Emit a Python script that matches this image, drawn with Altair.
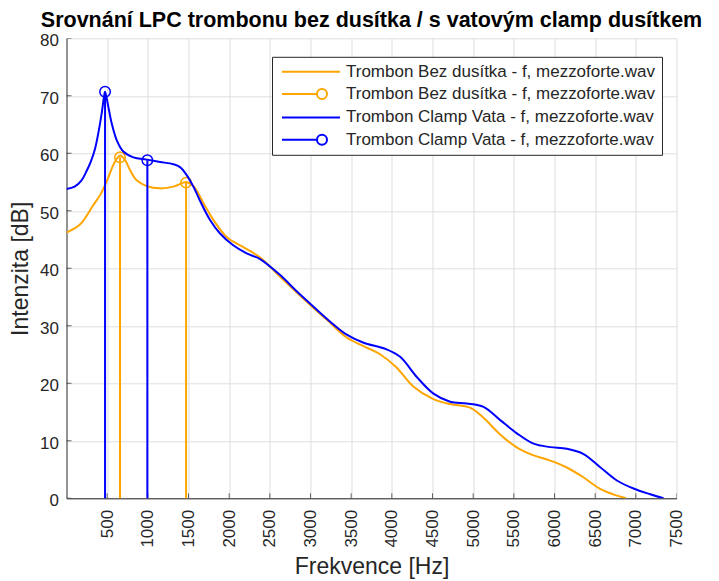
import altair as alt
import pandas as pd

TITLE = "Srovnání LPC trombonu bez dusítka / s vatovým clamp dusítkem"
X_TITLE = "Frekvence [Hz]"
Y_TITLE = "Intenzita [dB]"

LEGEND_KEYS = ["bez_line", "bez_stem", "clamp_line", "clamp_stem"]
LEGEND_LABELS = [
    "Trombon Bez dusítka - f, mezzoforte.wav",
    "Trombon Bez dusítka - f, mezzoforte.wav",
    "Trombon Clamp Vata - f, mezzoforte.wav",
    "Trombon Clamp Vata - f, mezzoforte.wav",
]

bez_freq = [0, 165, 330, 420, 500, 570, 620, 658, 720, 781, 863, 986, 1150, 1314, 1437,
            1470, 1560, 1693, 1816, 1980, 2184, 2389, 2620, 2830, 3030, 3235, 3440,
            3645, 3850, 4055, 4260, 4505, 4710, 4955, 5120, 5325, 5530, 5735, 5940,
            6145, 6350, 6555, 6760, 6880]
bez_db = [46.2, 47.6, 51.0, 52.9, 55.3, 57.8, 59.1, 59.6, 58.8, 57.1, 55.3, 54.3, 53.9,
          54.2, 54.9, 55.0, 54.3, 51.1, 48.2, 45.3, 43.6, 41.8, 38.6, 35.8, 33.2, 30.6,
          28.0, 26.5, 25.1, 22.8, 19.5, 17.3, 16.4, 15.8, 14.1, 11.2, 8.9, 7.5, 6.6, 5.4,
          3.7, 1.7, 0.5, 0.0]

clamp_freq = [0, 100, 180, 250, 300, 351, 391, 433, 461, 474, 514, 556, 617, 699, 822,
              986, 1150, 1314, 1396, 1478, 1560, 1640, 1765, 1885, 2050, 2215, 2380,
              2620, 2830, 3030, 3235, 3440, 3645, 3935, 4102, 4307, 4512, 4717, 4922,
              5127, 5332, 5537, 5742, 5947, 6152, 6357, 6562, 6767, 6972, 7177, 7341]
clamp_db = [53.8, 54.2, 55.2, 57.0, 58.6, 60.8, 63.5, 67.0, 69.8, 70.7, 68.1, 65.2, 62.3,
            60.3, 59.3, 58.9, 58.5, 58.1, 57.6, 56.2, 54.2, 51.8, 48.4, 46.1, 44.0, 42.6,
            41.6, 38.9, 36.0, 33.4, 30.8, 28.5, 27.1, 25.9, 24.6, 21.1, 18.2, 16.8, 16.5,
            15.9, 13.6, 11.3, 9.5, 8.9, 8.6, 7.7, 5.4, 3.1, 1.7, 0.7, 0.0]

bez_peak_freq = [658, 1470]
bez_peak_db = [59.3, 54.9]
clamp_peak_freq = [474, 994]
clamp_peak_db = [70.7, 58.8]

x_ticks = [500, 1000, 1500, 2000, 2500, 3000, 3500, 4000, 4500, 5000, 5500, 6000,
           6500, 7000, 7500]
y_ticks = [0, 10, 20, 30, 40, 50, 60, 70, 80]

ORANGE = "#FFA500"
BLUE = "#0000FF"
AXIS_COL = "#262626"
FONT = "Liberation Sans"

LINE_PATH = "M-0.625,0H6.625"
STEM_PATH = ("M-0.625,0H3.75M5.0,0A0.625,0.625,0,1,1,3.75,0"
             "A0.625,0.625,0,1,1,5.0,0")

xscale = alt.Scale(domain=[0, 7500], nice=False, zero=False)
yscale = alt.Scale(domain=[0, 80], nice=False, zero=False)
xaxis = alt.Axis(values=x_ticks, labelAngle=270, format="d", title=X_TITLE, grid=True,
                 labelPadding=11, titlePadding=8)
yaxis = alt.Axis(values=y_ticks, format="d", title=Y_TITLE, grid=True, labelPadding=8,
                 labelOffset=2.5, titlePadding=7)


def X(field):
    return alt.X(f"{field}:Q", scale=xscale, axis=xaxis)


def Y(field):
    return alt.Y(f"{field}:Q", scale=yscale, axis=yaxis)


bez_df = pd.DataFrame({"freq": bez_freq, "db": bez_db})
clamp_df = pd.DataFrame({"freq": clamp_freq, "db": clamp_db})
bez_pk = pd.DataFrame({"freq": bez_peak_freq, "db": bez_peak_db})
clamp_pk = pd.DataFrame({"freq": clamp_peak_freq, "db": clamp_peak_db})
xt_df = pd.DataFrame({"freq": x_ticks})
yt_df = pd.DataFrame({"db": y_ticks})
leg_df = pd.DataFrame({"key": LEGEND_KEYS, "freq": [None] * 4, "db": [None] * 4})

label_expr = " : ".join(
    f"datum.value == '{k}' ? '{l}'" for k, l in zip(LEGEND_KEYS, LEGEND_LABELS)
) + " : ''"


def line_layer(df, color):
    return alt.Chart(df).mark_line(interpolate="catmull-rom", color=color,
                                   strokeWidth=2, clip=True).encode(
        x=X("freq"), y=Y("db"))


def stem_layers(df, color):
    rules = alt.Chart(df).mark_rule(color=color, strokeWidth=2).encode(
        x=X("freq"), y=Y("db"), y2=alt.datum(0))
    tops = alt.Chart(df).mark_point(shape="circle", filled=False, size=110,
                                    strokeWidth=1.5, color=color, opacity=1).encode(
        x=X("freq"), y=Y("db"))
    return rules + tops


legend = alt.Legend(
    title=None, orient="none", legendX=205.5, legendY=18.5,
    fillColor="white", strokeColor=AXIS_COL, padding=6,
    labelFontSize=17, labelFont=FONT, labelColor=AXIS_COL, labelOffset=50,
    labelLimit=600, symbolSize=256, symbolStrokeWidth=2, rowPadding=5.3,
    labelExpr=label_expr,
)

legend_layer = alt.Chart(leg_df).mark_point(filled=False, opacity=1, strokeWidth=2).encode(
    x=X("freq"), y=Y("db"),
    color=alt.Color("key:N", scale=alt.Scale(domain=LEGEND_KEYS,
                                             range=[ORANGE, ORANGE, BLUE, BLUE]),
                    legend=legend),
    shape=alt.Shape("key:N", scale=alt.Scale(domain=LEGEND_KEYS,
                                             range=[LINE_PATH, STEM_PATH, LINE_PATH, STEM_PATH]),
                    legend=legend),
)

xticks_layer = alt.Chart(xt_df).mark_tick(orient="vertical", size=10, thickness=1,
                                          color=AXIS_COL, clip=True).encode(
    x=X("freq"), y=alt.datum(0))
yticks_layer = alt.Chart(yt_df).mark_tick(orient="horizontal", size=10, thickness=1,
                                          color=AXIS_COL, clip=True).encode(
    y=Y("db"), x=alt.datum(0))

chart = alt.layer(
    xticks_layer, yticks_layer,
    line_layer(bez_df, ORANGE), stem_layers(bez_pk, ORANGE),
    line_layer(clamp_df, BLUE), stem_layers(clamp_pk, BLUE),
    legend_layer,
).properties(
    width=610, height=460,
    title=alt.TitleParams(TITLE, fontSize=21.5, fontWeight="bold", font=FONT,
                          anchor="middle", color="black", offset=0),
    autosize=alt.AutoSizeParams(type="none"),
    padding={"left": 58.5, "top": 30.3, "right": 34, "bottom": 82},
).configure_view(stroke=None).configure_axis(
    domainColor=AXIS_COL, domainWidth=1, tickSize=0, labelColor=AXIS_COL,
    labelFont=FONT, labelFontSize=17, titleFont=FONT, titleFontSize=23,
    titleFontWeight="normal", titleColor=AXIS_COL, gridColor="#dedede",
    gridWidth=1,
)

chart.save("out.html", embed_options={"renderer": "svg", "actions": False})
